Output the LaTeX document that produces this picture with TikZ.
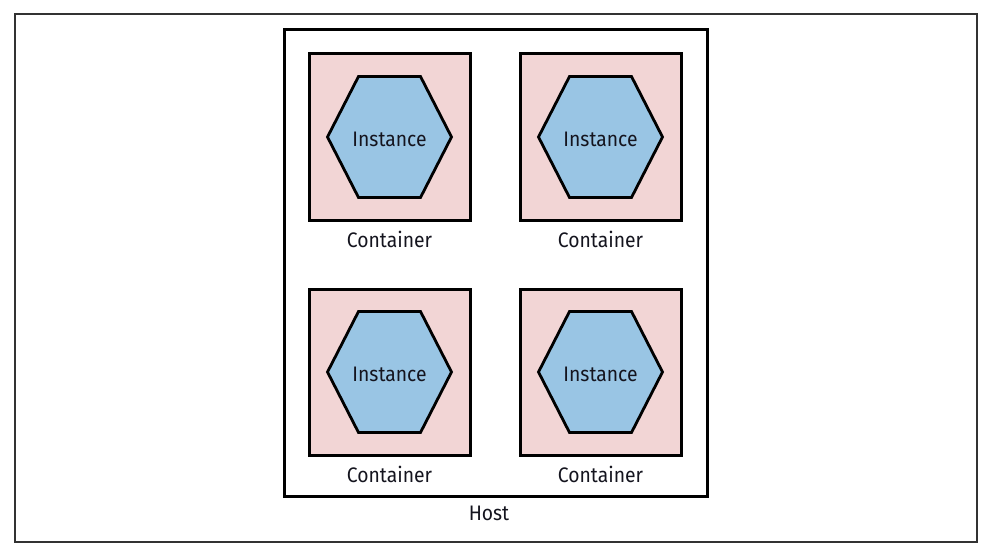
\documentclass[tikz,border=0pt]{standalone}
\usepackage{fontspec}
\setmainfont[FakeStretch=0.92]{Fira Sans}
\definecolor{pinkc}{RGB}{242,213,213}
\definecolor{bluec}{RGB}{153,197,228}
\definecolor{framec}{RGB}{50,50,50}
\definecolor{textc}{RGB}{20,20,30}
\begin{document}
\begin{tikzpicture}[x=1pt,y=-1pt,
  hostbox/.style={draw=black, line width=3pt, minimum width=423pt, minimum height=466pt, inner sep=0pt},
  cont/.style={draw=black, line width=3pt, fill=pinkc, minimum width=161pt, minimum height=166pt, inner sep=0pt},
  hexshape/.style={draw=black, line width=2.8pt, fill=bluec, line join=miter},
  lbl/.style={font=\fontsize{21}{23}\selectfont, inner sep=0pt, text=textc},
  hexa/.pic={\draw[hexshape] (-62,0) -- (-31,-60.5) -- (31,-60.5) -- (62,0) -- (31,60.5) -- (-31,60.5) -- cycle;}]
\useasboundingbox (0,0) rectangle (990,556);
\draw[line width=1.5pt, draw=framec] (15,14) rectangle (977,542);
\node[hostbox] (host) at (495.5,263) {};
\node[lbl] (hostlbl) at (489,513) {Host};
\foreach \n/\cx/\cy in {1/389.5/137, 2/600.5/137, 3/389.5/372, 4/600.5/372}{
  \node[cont] (c\n) at (\cx,\cy) {};
  \pic at (\cx,\cy) {hexa};
  \node[lbl] (i\n) at (\cx,\cy+2) {Instance};
  \node[lbl] (l\n) at (\cx,\cy+102.5) {Container};
}
\end{tikzpicture}
\end{document}
